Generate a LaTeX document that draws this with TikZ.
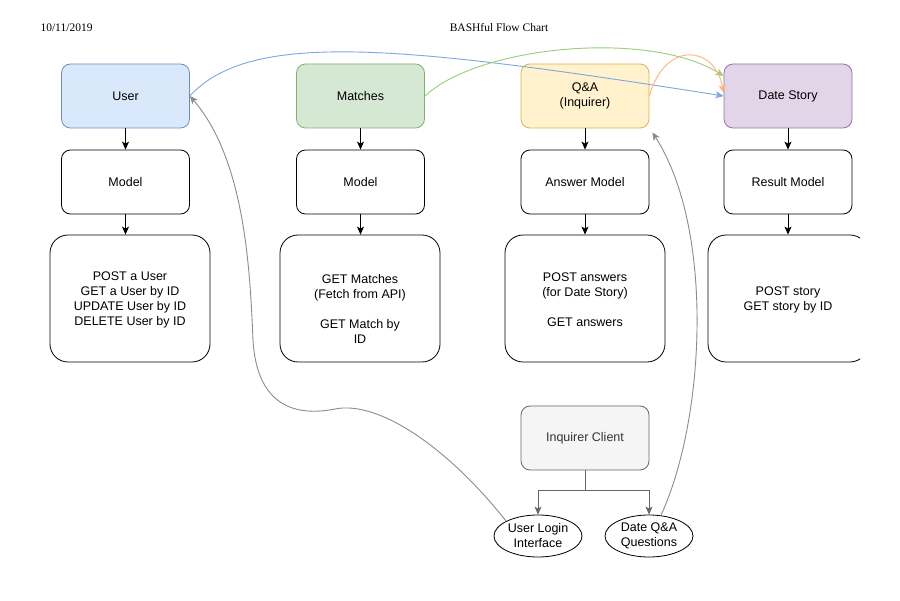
\documentclass[tikz,border=0pt]{standalone}
\usepackage{fontspec}
\setmainfont{Liberation Sans}
\newfontfamily\hdrfont{Liberation Serif}
\usetikzlibrary{arrows.meta,shapes.geometric}

\definecolor{userfill}{HTML}{DAE8FC}
\definecolor{userline}{HTML}{6C8EBF}
\definecolor{matchfill}{HTML}{D5E8D4}
\definecolor{matchline}{HTML}{82B366}
\definecolor{qafill}{HTML}{FFF2CC}
\definecolor{qaline}{HTML}{D6B656}
\definecolor{storyfill}{HTML}{E1D5E7}
\definecolor{storyline}{HTML}{9673A6}
\definecolor{clientfill}{HTML}{F5F5F5}
\definecolor{clientline}{HTML}{666666}
\definecolor{clienttext}{HTML}{333333}
\definecolor{bluelink}{HTML}{7EA6E0}
\definecolor{greenlink}{HTML}{97D077}
\definecolor{orangelink}{HTML}{FFB570}
\definecolor{graylink}{HTML}{8C8C8C}

\begin{document}
\begin{tikzpicture}[x=1pt,y=-1pt,
  font=\fontsize{12.5}{15}\selectfont,
  headbox/.style={rectangle, rounded corners=9pt, minimum width=128pt,
    minimum height=64pt, inner sep=0pt, line width=0.8pt, draw},
  modelbox/.style={headbox, draw=black, fill=white},
  opsbox/.style={rectangle, rounded corners=18pt, minimum width=160pt,
    minimum height=127pt, inner sep=0pt, draw=black, line width=0.8pt},
  opstext/.style={align=center, inner sep=0pt},
  bubble/.style={ellipse, draw=black, line width=0.8pt, minimum width=88pt,
    minimum height=42pt, inner sep=0pt, align=center, fill=white},
  tip/.style={-{Stealth[length=8pt,width=7pt,inset=2pt]}},
  flow/.style={tip, line width=0.8pt, draw=black},
  split/.style={tip, line width=0.8pt, draw=clientline},
  link/.style={tip, line width=0.9pt}
]
\fill[white] (0,0) rectangle (900,601);
\path[use as bounding box] (0,0) rectangle (900,601);

% page header
\node[font=\hdrfont\fontsize{11.5}{14}\selectfont, anchor=west] (date) at (37,28) {10/11/2019};
\node[font=\hdrfont\fontsize{11.5}{14}\selectfont] (title) at (499,28) {BASHful Flow Chart};

% resource headers
\node[headbox, fill=userfill, draw=userline] (user) at (125.5,96) {User};
\node[headbox, fill=matchfill, draw=matchline] (matches) at (360.5,96) {Matches};
\node[headbox, fill=qafill, draw=qaline, align=center] (qa) at (585,96) {Q\&A\\(Inquirer)};
\node[headbox, fill=storyfill, draw=storyline] (story) at (788,96) {Date Story};

% models
\node[modelbox] (umodel) at (125.5,182) {Model};
\node[modelbox] (mmodel) at (360.5,182) {Model};
\node[modelbox] (amodel) at (585,182) {Answer Model};
\node[modelbox] (rmodel) at (788,182) {Result Model};

% operations
\node[opsbox] (uops) at (130,298.5) {};
\node[opstext] (utext) at (130,299.5) {POST a User\\GET a User by ID\\UPDATE User by ID\\DELETE User by ID};
\node[opsbox] (mops) at (360,298.5) {};
\node[opstext] (mtext) at (360,309) {GET Matches\\(Fetch from API)\\[15pt]GET Match by\\ID};
\node[opsbox] (qops) at (585,298.5) {};
\node[opstext] (qtext) at (585,299.5) {POST answers\\(for Date Story)\\[15pt]GET answers};
\begin{scope}
  \clip (0,0) rectangle (860,601);
  \node[opsbox] (sops) at (788,298.5) {};
\end{scope}
\node[opstext] (stext) at (788,299.5) {POST story\\GET story by ID};

% vertical flow
\foreach \h/\m/\o in {user/umodel/uops, matches/mmodel/mops, qa/amodel/qops, story/rmodel/sops} {
  \draw[flow] (\h.south) -- (\m.north);
  \draw[flow] (\m.south) -- (\m.south |- \o.north);
}

% inquirer client
\node[headbox, fill=clientfill, draw=clientline, text=clienttext] (client) at (585,438) {Inquirer Client};
\node[bubble] (ulogin) at (538,536) {User Login\\Interface};
\node[bubble] (dqa) at (649,536) {Date Q\&A\\Questions};
\coordinate (fork) at (585,490);
\draw[split] (client.south) -- (fork) -| (ulogin.north);
\draw[split] (fork) -| (dqa.north);

% links between clients and resources
\draw[link, draw=graylink] (ulogin.155) .. controls (450,450) and (380,400) .. (335,409)
  .. controls (300,416) and (257,410) .. (253,340)
  .. controls (250,270) and (245,160) .. (user.east);
\draw[link, draw=graylink] (dqa.60) .. controls (705,420) and (715,230) .. ([shift={(3pt,-4pt)}]qa.south east);
\draw[link, draw=bluelink] (user.east) .. controls (250,30) and (400,45) .. (story.west);
\draw[link, draw=greenlink] (matches.east) .. controls (480,45) and (650,30) .. ([yshift=20pt]story.west);
\draw[link, draw=orangelink] (qa.east) .. controls (665,40) and (715,45) .. ([yshift=3pt]story.west);
\end{tikzpicture}
\end{document}
